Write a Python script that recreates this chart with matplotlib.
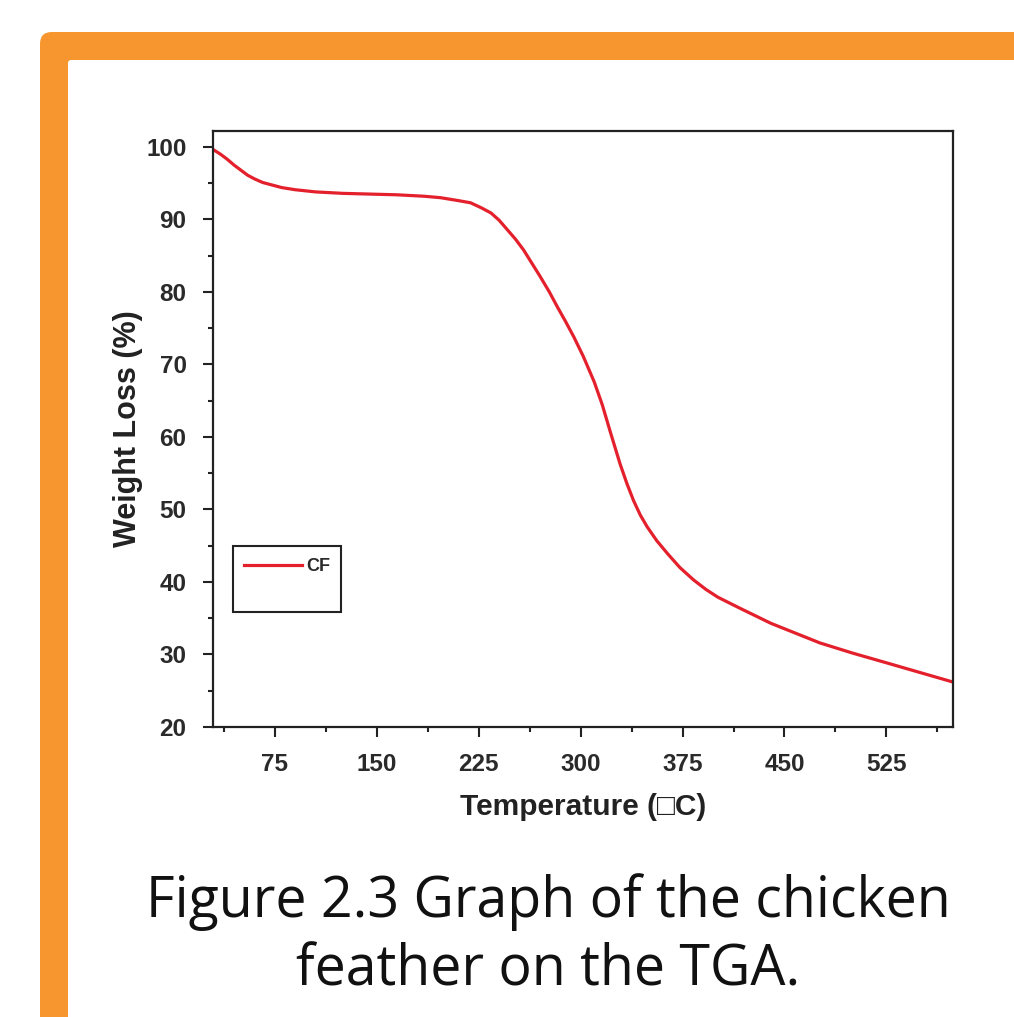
import matplotlib
matplotlib.use("Agg")
import matplotlib.pyplot as plt
from matplotlib.patches import FancyBboxPatch, Rectangle

# TGA curve of chicken feather
temperature = [30, 35, 40, 45, 50, 55, 60, 66, 72, 80, 90, 105, 125, 145, 165, 185,
               197, 210, 219, 227, 234, 240, 246, 252, 258, 264, 270, 277, 283,
               289, 295, 302, 310, 316, 322, 329, 334, 339, 344, 349, 356, 364,
               373, 383, 392, 401, 417, 440, 460, 476, 500, 526, 550, 574]
weight_loss = [99.6, 99.0, 98.3, 97.5, 96.8, 96.1, 95.6, 95.1, 94.8, 94.4, 94.1,
               93.8, 93.6, 93.5, 93.4, 93.2, 93.0, 92.6, 92.3, 91.6, 90.9, 89.9,
               88.6, 87.3, 85.8, 84.0, 82.2, 80.0, 77.9, 75.9, 73.8, 71.1, 67.6,
               64.4, 60.6, 56.3, 53.6, 51.2, 49.2, 47.6, 45.7, 43.9, 42.0, 40.3,
               39.0, 37.9, 36.4, 34.3, 32.8, 31.6, 30.2, 28.8, 27.5, 26.2]

x_major = [75, 150, 225, 300, 375, 450, 525]
y_major = [20, 30, 40, 50, 60, 70, 80, 90, 100]
series_label = "CF"
caption = "Figure 2.3 Graph of the chicken\nfeather on the TGA."

W, H = 1014, 1017
fig = plt.figure(figsize=(W / 100, H / 100), dpi=100)
fig.patch.set_facecolor("white")

# background frame, drawn in pixel coordinates
bg = fig.add_axes([0, 0, 1, 1], zorder=-10)
bg.set_xlim(0, W)
bg.set_ylim(H, 0)
bg.axis("off")
bg.add_patch(FancyBboxPatch((40, 32), 1200, 1200, boxstyle="round,pad=0,rounding_size=12",
                            facecolor="#F7962F", edgecolor="none"))
bg.add_patch(FancyBboxPatch((68, 60), 1200, 1200, boxstyle="round,pad=0,rounding_size=3",
                            facecolor="white", edgecolor="none"))

ax = fig.add_axes([213 / W, 1 - 727 / H, 740 / W, 596 / H])
ax.plot(temperature, weight_loss, color="#E3202B", lw=2.3, label=series_label)
ax.set_xlim(29.5, 574)
ax.set_ylim(20, 102.2)

ax.set_xticks(x_major)
ax.set_xticks([37.5 + 75 * i for i in range(8)], minor=True)
ax.set_yticks(y_major)
ax.set_yticks(range(25, 101, 10), minor=True)

lab_font = dict(family=["Liberation Sans", "DejaVu Sans"], weight="bold", color="#222222")
for t in ax.get_xticklabels() + ax.get_yticklabels():
    t.set_fontfamily("Liberation Sans")
    t.set_fontweight("bold")
    t.set_fontsize(17.5)
    t.set_color("#2a2a2a")

ax.tick_params(which="major", direction="out", length=7, width=1.5, pad=12, color="#222222")
ax.tick_params(which="minor", direction="out", length=3.5, width=1.5, color="#222222")
for s in ax.spines.values():
    s.set_linewidth(1.6)
    s.set_color("#222222")

ax.set_xlabel("Temperature (\u25a1C)", fontsize=21.5, labelpad=12, **lab_font)
ax.set_ylabel("Weight Loss (%)", fontsize=22, labelpad=2, **lab_font)

# legend with its taller frame
ax.add_patch(Rectangle((20 / 740, (727 - 612) / 596), 108 / 740, 66 / 596,
                       transform=ax.transAxes, facecolor="none",
                       edgecolor="#222222", lw=1.5, zorder=5))
leg = ax.legend(loc="upper left", bbox_to_anchor=(31 / 740, (727 - 558) / 596),
                frameon=False, handlelength=3.2, handletextpad=0.25, borderaxespad=0,
                borderpad=0, prop=dict(family="Liberation Sans", weight="bold", size=13))
for t in leg.get_texts():
    t.set_color("#2a2a2a")

fig.text(548 / W, 1 - 936 / H, caption, ha="center", va="center", fontsize=40,
         family="Open Sans", color="#111111", linespacing=1.27)

fig.savefig("out.png", dpi=100)
